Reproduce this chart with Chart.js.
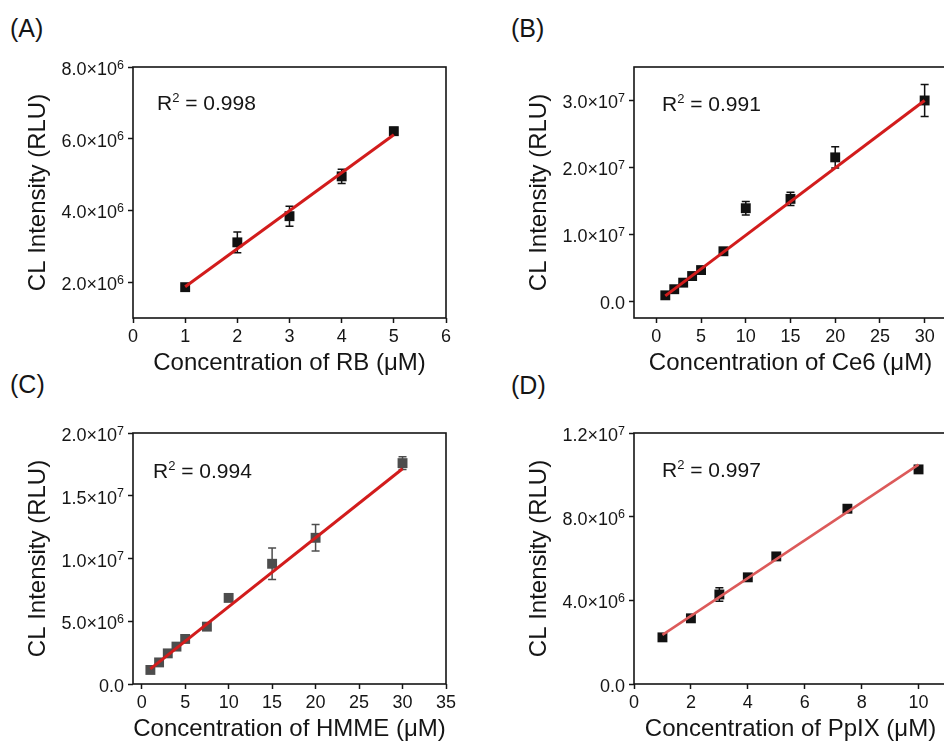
<!DOCTYPE html>
<html>
<head>
<meta charset="utf-8">
<script src="https://cdn.jsdelivr.net/npm/chart.js@4.4.1/dist/chart.umd.min.js"></script>
<style>
  html, body { margin: 0; padding: 0; background: #fff; }
  body { position: relative; width: 944px; height: 744px; overflow: hidden;
         font-family: "Liberation Sans", Arial, sans-serif; color: #151515; }
  canvas { position: absolute; }
  .tag { position: absolute; font-size: 25px; line-height: 30px; white-space: nowrap; }
  .r2 { position: absolute; font-size: 21px; line-height: 24px; white-space: nowrap; }
  .r2 sup { font-size: 13px; vertical-align: 0; position: relative; top: -8px; }
</style>
</head>
<body>
<div class="tag" style="left:10px;top:13px">(A)</div>
<div class="tag" style="left:511px;top:13px">(B)</div>
<div class="tag" style="left:10px;top:369px">(C)</div>
<div class="tag" style="left:511px;top:370px">(D)</div>

<canvas id="panelA" width="470" height="378" style="left:0;top:0"></canvas>
<canvas id="panelB" width="470" height="378" style="left:501px;top:0"></canvas>
<canvas id="panelC" width="470" height="378" style="left:0;top:366px"></canvas>
<canvas id="panelD" width="470" height="378" style="left:501px;top:366px"></canvas>

<div class="r2" style="left:157px;top:91px">R<sup>2</sup> = 0.998</div>
<div class="r2" style="left:662px;top:92px">R<sup>2</sup> = 0.991</div>
<div class="r2" style="left:153px;top:459px">R<sup>2</sup> = 0.994</div>
<div class="r2" style="left:662px;top:458px">R<sup>2</sup> = 0.997</div>

<script>
// ---- (A) Rose Bengal ----
const concRB = [1, 2, 3, 4, 5];
const clRB = [1.86e6, 3.11e6, 3.84e6, 4.95e6, 6.21e6];
const errRB = [0.06e6, 0.29e6, 0.28e6, 0.20e6, 0.10e6];
const fitRBx = [1, 5];
const fitRBy = [1.87e6, 6.11e6];
const xTicksRB = [0, 1, 2, 3, 4, 5, 6];
const yTicksRB = [2e6, 4e6, 6e6, 8e6];
const yLabelsRB = ['2.0×10^6', '4.0×10^6', '6.0×10^6', '8.0×10^6'];

// ---- (B) Ce6 ----
const concCe6 = [1, 2, 3, 4, 5, 7.5, 10, 15, 20, 30];
const clCe6 = [0.89e6, 1.8e6, 2.78e6, 3.77e6, 4.66e6, 7.47e6, 13.9e6, 15.3e6, 21.5e6, 30.0e6];
const errCe6 = [0.3e6, 0.3e6, 0.3e6, 0.3e6, 0.3e6, 0.4e6, 1.0e6, 1.0e6, 1.6e6, 2.38e6];
const fitCe6x = [1, 30];
const fitCe6y = [0.8e6, 30.0e6];
const xTicksCe6 = [0, 5, 10, 15, 20, 25, 30];
const yTicksCe6 = [0, 1e7, 2e7, 3e7];
const yLabelsCe6 = ['0.0', '1.0×10^7', '2.0×10^7', '3.0×10^7'];

// ---- (C) HMME ----
const concHMME = [1, 2, 3, 4, 5, 7.5, 10, 15, 20, 30];
const clHMME = [1.12e6, 1.72e6, 2.44e6, 2.98e6, 3.59e6, 4.57e6, 6.86e6, 9.58e6, 11.65e6, 17.6e6];
const errHMME = [0.15e6, 0.15e6, 0.15e6, 0.15e6, 0.15e6, 0.15e6, 0.2e6, 1.25e6, 1.06e6, 0.5e6];
const fitHMMEx = [1, 30];
const fitHMMEy = [1.2e6, 17.15e6];
const xTicksHMME = [0, 5, 10, 15, 20, 25, 30, 35];
const yTicksHMME = [0, 5e6, 1e7, 1.5e7, 2e7];
const yLabelsHMME = ['0.0', '5.0×10^6', '1.0×10^7', '1.5×10^7', '2.0×10^7'];

// ---- (D) PpIX ----
const concPpIX = [1, 2, 3, 4, 5, 7.5, 10];
const clPpIX = [2.23e6, 3.14e6, 4.28e6, 5.1e6, 6.1e6, 8.38e6, 10.26e6];
const errPpIX = [0.1e6, 0.15e6, 0.32e6, 0.1e6, 0.1e6, 0.1e6, 0.1e6];
const fitPpIXx = [1, 10];
const fitPpIXy = [2.35e6, 10.49e6];
const xTicksPpIX = [0, 2, 4, 6, 8, 10];
const yTicksPpIX = [0, 4e6, 8e6, 1.2e7];
const yLabelsPpIX = ['0.0', '4.0×10^6', '8.0×10^6', '1.2×10^7'];

const FONT = '"Liberation Sans", Arial, sans-serif';
const INK = '#151515';

// Error bars under the markers, the closed frame around the plot area,
// and y tick labels written with a raised exponent.
const framePlugin = {
  id: 'frameAndErrors',
  beforeDatasetsDraw(chart) {
    const ctx = chart.ctx;
    const ys = chart.scales.y;
    chart.data.datasets.forEach((ds, i) => {
      if (!ds.errors) return;
      const meta = chart.getDatasetMeta(i);
      ctx.save();
      ctx.strokeStyle = ds.borderColor;
      ctx.lineWidth = 1.5;
      meta.data.forEach((pt, j) => {
        const v = ds.data[j].y, e = ds.errors[j];
        const top = ys.getPixelForValue(v + e), bot = ys.getPixelForValue(v - e);
        const x = pt.x, cap = 4;
        ctx.beginPath();
        ctx.moveTo(x, top); ctx.lineTo(x, bot);
        ctx.moveTo(x - cap, top); ctx.lineTo(x + cap, top);
        ctx.moveTo(x - cap, bot); ctx.lineTo(x + cap, bot);
        ctx.stroke();
      });
      ctx.restore();
    });
  },
  afterDraw(chart, args, opts) {
    const a = chart.chartArea, ctx = chart.ctx;
    ctx.save();
    ctx.strokeStyle = INK;
    ctx.lineWidth = 1.6;
    ctx.strokeRect(a.left, a.top, a.right - a.left, a.bottom - a.top);

    const ys = chart.scales.y;
    const right = a.left - 9;
    ctx.fillStyle = INK;
    ctx.textAlign = 'right';
    ctx.textBaseline = 'alphabetic';
    opts.values.forEach((v, i) => {
      const py = ys.getPixelForValue(v);
      const [base, exp] = opts.labels[i].split('^');
      let x = right;
      if (exp) {
        ctx.font = '12.5px ' + FONT;
        ctx.fillText(exp, x, py + 1.6);
        x -= ctx.measureText(exp).width;
      }
      ctx.font = '18px ' + FONT;
      ctx.fillText(base, x, py + 8);
    });
    ctx.restore();
  }
};

function panel(id, p) {
  const tickGrid = { display: true, drawOnChartArea: false, drawTicks: true,
                     tickLength: 5, tickWidth: 1.5, tickColor: INK };
  return new Chart(document.getElementById(id), {
    type: 'scatter',
    data: {
      datasets: [
        { type: 'line', data: p.fitX.map((x, i) => ({ x, y: p.fitY[i] })),
          borderColor: p.lineColor, borderWidth: p.lineWidth, pointRadius: 0, fill: false, tension: 0 },
        { type: 'scatter', data: p.x.map((x, i) => ({ x, y: p.y[i] })), errors: p.err,
          pointStyle: 'rect', pointRadius: 7, backgroundColor: p.markColor,
          borderColor: p.markColor, borderWidth: 0 }
      ]
    },
    options: {
      responsive: false, animation: false, devicePixelRatio: 1,
      layout: { padding: { top: 67, left: 0, right: 24, bottom: 0 } },
      plugins: {
        legend: { display: false }, tooltip: { enabled: false },
        frameAndErrors: { values: p.yTicks, labels: p.yLabels }
      },
      scales: {
        x: {
          type: 'linear', min: p.xMin, max: p.xMax,
          afterBuildTicks: s => { s.ticks = p.xTicks.map(v => ({ value: v })); },
          afterFit: s => { s.height = 60; },
          ticks: { autoSkip: false, maxRotation: 0, padding: 3, color: INK,
                   font: { family: FONT, size: 18 }, callback: v => String(v) },
          grid: tickGrid, border: { display: false },
          title: { display: true, text: p.xTitle, color: INK,
                   font: { family: FONT, size: 24 }, padding: { top: 0, bottom: 0 } }
        },
        y: {
          type: 'linear', min: p.yMin, max: p.yMax,
          afterBuildTicks: s => { s.ticks = p.yTicks.map(v => ({ value: v })); },
          afterFit: s => { s.width = 133; },
          ticks: { display: false, autoSkip: false },
          grid: tickGrid, border: { display: false },
          title: { display: true, text: 'CL Intensity (RLU)', color: INK,
                   font: { family: FONT, size: 24 }, padding: { top: 24, bottom: 0 } }
        }
      }
    },
    plugins: [framePlugin]
  });
}

panel('panelA', {
  x: concRB, y: clRB, err: errRB, fitX: fitRBx, fitY: fitRBy,
  xMin: 0, xMax: 6, yMin: 1e6, yMax: 8e6,
  xTicks: xTicksRB, yTicks: yTicksRB, yLabels: yLabelsRB,
  xTitle: 'Concentration of RB (μM)',
  markColor: '#111111', lineColor: '#d21c1c', lineWidth: 3
});
panel('panelB', {
  x: concCe6, y: clCe6, err: errCe6, fitX: fitCe6x, fitY: fitCe6y,
  xMin: -2.5, xMax: 32.5, yMin: -2.5e6, yMax: 3.5e7,
  xTicks: xTicksCe6, yTicks: yTicksCe6, yLabels: yLabelsCe6,
  xTitle: 'Concentration of Ce6 (μM)',
  markColor: '#111111', lineColor: '#d21c1c', lineWidth: 3
});
panel('panelC', {
  x: concHMME, y: clHMME, err: errHMME, fitX: fitHMMEx, fitY: fitHMMEy,
  xMin: -1, xMax: 35, yMin: 0, yMax: 2e7,
  xTicks: xTicksHMME, yTicks: yTicksHMME, yLabels: yLabelsHMME,
  xTitle: 'Concentration of HMME (μM)',
  markColor: '#4d4d4d', lineColor: '#d21c1c', lineWidth: 3
});
panel('panelD', {
  x: concPpIX, y: clPpIX, err: errPpIX, fitX: fitPpIXx, fitY: fitPpIXy,
  xMin: 0, xMax: 11, yMin: 0, yMax: 1.2e7,
  xTicks: xTicksPpIX, yTicks: yTicksPpIX, yLabels: yLabelsPpIX,
  xTitle: 'Concentration of PpIX (μM)',
  markColor: '#111111', lineColor: '#dc5a5a', lineWidth: 2.5
});
</script>
</body>
</html>
